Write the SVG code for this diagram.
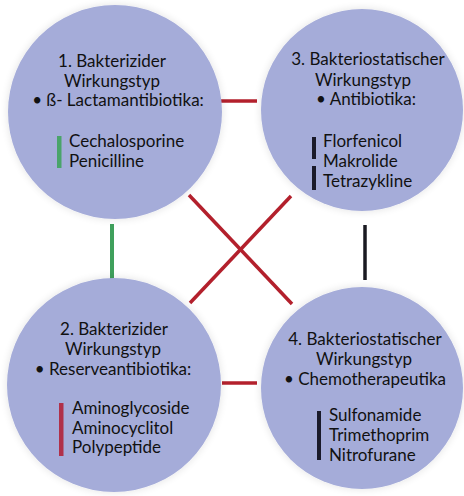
<svg xmlns="http://www.w3.org/2000/svg" width="464" height="496" viewBox="0 0 464 496">
<defs>
<filter id="glow" x="-20%" y="-20%" width="140%" height="140%">
<feGaussianBlur in="SourceAlpha" stdDeviation="4"/>
<feComponentTransfer><feFuncA type="linear" slope="0.12"/></feComponentTransfer>
<feMerge><feMergeNode/><feMergeNode in="SourceGraphic"/></feMerge>
</filter>
<style>
.c{fill:#a5acd9;filter:url(#glow)}
.t{font-family:Lato,"Open Sans",sans-serif;font-size:17px;fill:#111}
.m{text-anchor:middle}
.red{stroke:#b3202c;stroke-width:3.5;fill:none}
.grn{stroke:#3fa05c;stroke-width:4;fill:none}
.blk{stroke:#1a1a22;stroke-width:3.5;fill:none}
</style>
</defs>
<rect width="464" height="496" fill="#ffffff"/>
<g id="connectors">
<line class="red" x1="217" y1="101" x2="257" y2="101"/>
<line class="red" x1="222" y1="383" x2="257" y2="383"/>
<line class="grn" x1="112" y1="224" x2="112" y2="279"/>
<line class="blk" x1="365" y1="225" x2="365" y2="280"/>
<line class="red" x1="189" y1="195" x2="292" y2="304"/>
<line class="red" x1="291" y1="196" x2="190" y2="303"/>
</g>
<g id="node1">
<circle class="c" cx="115" cy="112" r="107"/>
<text class="t m" x="112" y="67">1. Bakterizider</text>
<text class="t m" x="112" y="86.5">Wirkungstyp</text>
<text class="t m" x="118" y="106">• ß- Lactamantibiotika:</text>
<rect x="57" y="136" width="4.5" height="32" fill="#4aa46a"/>
<text class="t" x="69" y="147">Cechalosporine</text>
<text class="t" x="69" y="167">Penicilline</text>
</g>
<g id="node3">
<circle class="c" cx="362" cy="110" r="101"/>
<text class="t m" x="368" y="65">3. Bakteriostatischer</text>
<text class="t m" x="363" y="85.5">Wirkungstyp</text>
<text class="t m" x="366" y="105">• Antibiotika:</text>
<rect x="312" y="137" width="4" height="22" fill="#1a1a2a"/>
<rect x="312" y="166" width="4" height="24" fill="#1a1a2a"/>
<text class="t" x="323" y="147">Florfenicol</text>
<text class="t" x="323" y="167">Makrolide</text>
<text class="t" x="323" y="187">Tetrazykline</text>
</g>
<g id="node2">
<circle class="c" cx="114" cy="385" r="107"/>
<text class="t m" x="114" y="335">2. Bakterizider</text>
<text class="t m" x="113" y="355">Wirkungstyp</text>
<text class="t m" x="113" y="375">• Reserveantibiotika:</text>
<rect x="59" y="403" width="4.5" height="53" fill="#b0304a"/>
<text class="t" x="72" y="414">Aminoglycoside</text>
<text class="t" x="72" y="433.5">Aminocyclitol</text>
<text class="t" x="72" y="453">Polypeptide</text>
</g>
<g id="node4">
<circle class="c" cx="362" cy="388" r="101"/>
<text class="t m" x="365" y="345">4. Bakteriostatischer</text>
<text class="t m" x="364" y="365">Wirkungstyp</text>
<text class="t m" x="365" y="385">• Chemotherapeutika</text>
<rect x="317" y="411" width="4" height="49" fill="#1a1a2a"/>
<text class="t" x="329" y="421">Sulfonamide</text>
<text class="t" x="329" y="441">Trimethoprim</text>
<text class="t" x="329" y="461">Nitrofurane</text>
</g>
</svg>
